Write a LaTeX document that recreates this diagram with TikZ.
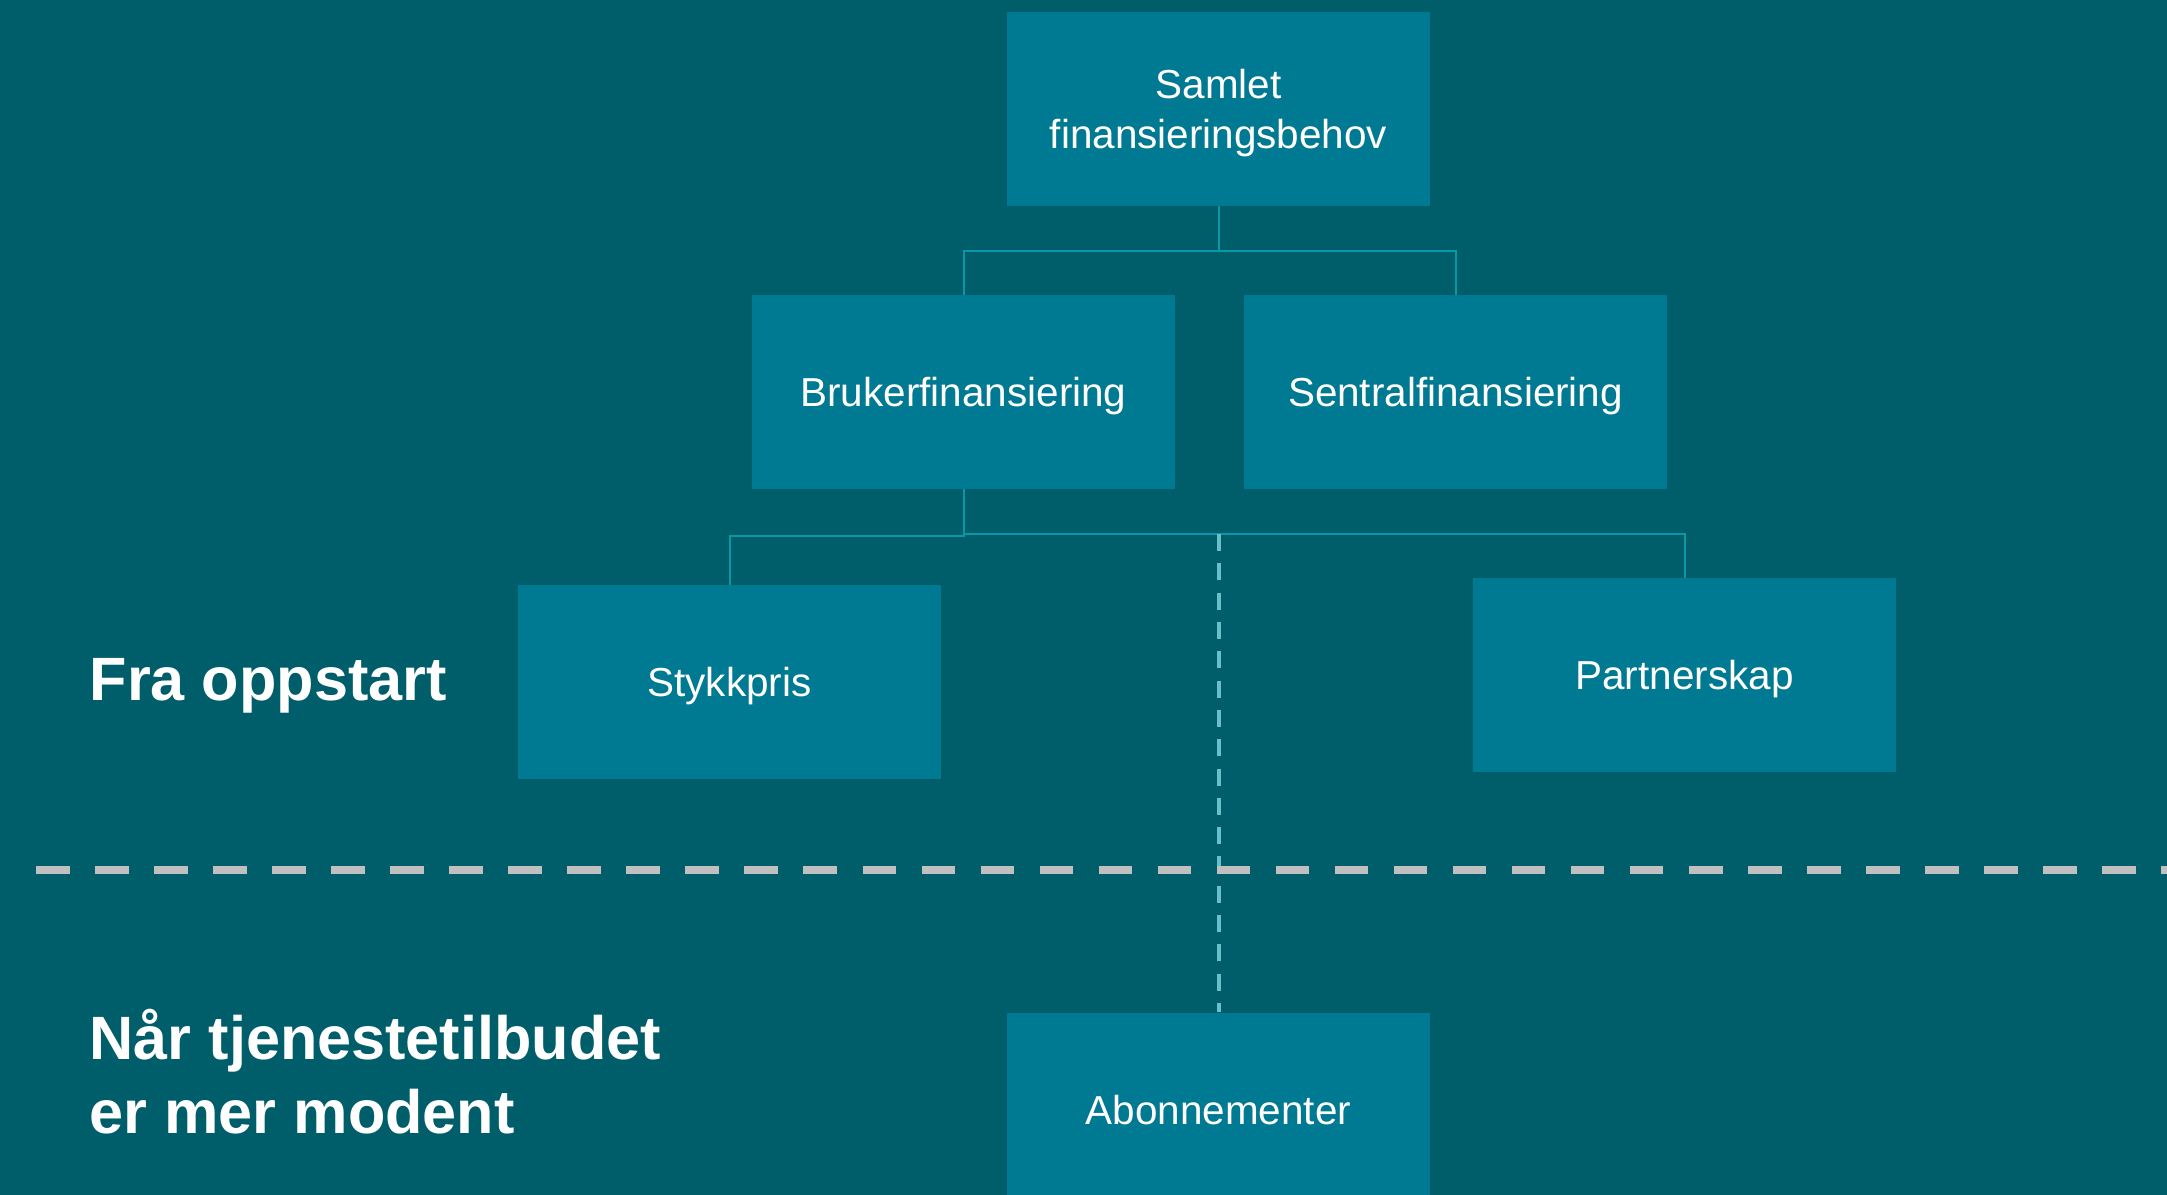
\documentclass[tikz,border=0pt]{standalone}
\usepackage{fontspec}
\setmainfont{Liberation Sans}
\definecolor{bg}{HTML}{005E6A}
\definecolor{boxc}{HTML}{007992}
\definecolor{conn}{HTML}{0898A8}
\definecolor{vdash}{HTML}{6BBFCB}
\definecolor{divc}{HTML}{C0C0C0}
\tikzset{
  box/.style={fill=boxc, draw=none, minimum width=4.23cm, minimum height=1.93cm, inner sep=0pt,
    text=white, align=center, text depth=-0.09cm, font=\fontsize{11.5}{14.4}\selectfont},
  conline/.style={draw=conn, line width=0.02cm},
  vdashline/.style={draw=vdash, line width=0.04cm, dash pattern=on 0.17cm off 0.123cm},
  divline/.style={draw=divc, line width=0.085cm, dash pattern=on 0.335cm off 0.255cm},
  label/.style={text=white, font=\fontsize{17.4}{20.2}\selectfont\bfseries, inner sep=0pt, anchor=base west}
}
\begin{document}
\begin{tikzpicture}[x=0.01cm, y=-0.01cm]
\fill[bg] (0,0) rectangle (2167,1195);
\useasboundingbox (0,0) rectangle (2167,1195);
\clip (0,0) rectangle (2167,1195);
% boxes
\node[box] (samlet) at (1218.5,109) {Samlet\\finansieringsbehov};
\node[box] (bruker) at (963.5,392) {Brukerfinansiering};
\node[box] (sentral) at (1455.5,392) {Sentralfinansiering};
\node[box] (stykk) at (729.5,682) {Stykkpris};
\node[box] (partner) at (1684.5,675) {Partnerskap};
\node[box] (abo) at (1218.5,1109.5) {Abonnementer};
% coordinates
\coordinate (j1) at (1218.5,251);
\coordinate (j2) at (963.5,536);
\coordinate (j3) at (963.5,534);
\coordinate (j4) at (1218.5,534);
% connectors
\draw[conline] (samlet.south) -- (j1) -| (bruker.north);
\draw[conline] (j1) -| (sentral.north);
\draw[conline] (bruker.south) -- (j2) -| (stykk.north);
\draw[conline] (j3) -| (partner.north);
\draw[vdashline] (j4) -- (abo.north);
% divider
\coordinate (d1) at (36,870);
\coordinate (d2) at (2200,870);
\draw[divline] (d1) -- (d2);
% labels
\node[label] (fra) at (89,701) {Fra oppstart};
\node[label] (naar1) at (89,1059) {Når tjenestetilbudet};
\node[label] (naar2) at (89,1133) {er mer modent};
\end{tikzpicture}
\end{document}
